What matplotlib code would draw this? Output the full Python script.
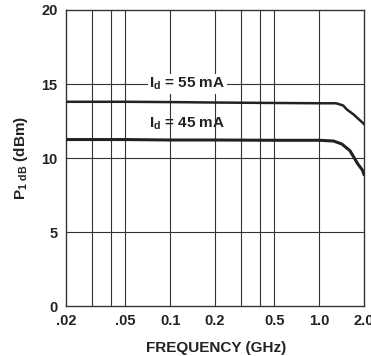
import matplotlib
matplotlib.use("Agg")
from matplotlib import pyplot as plt

# P1dB vs frequency
freq_55 = [0.02, 0.05, 0.1, 0.2, 0.5, 1.0, 1.3, 1.45, 1.54, 1.7, 1.89, 2.0]
p1db_55 = [13.8, 13.8, 13.78, 13.75, 13.72, 13.7, 13.7, 13.55, 13.27, 12.95, 12.53, 12.3]

freq_45 = [0.02, 0.05, 0.1, 0.2, 0.5, 1.0, 1.25, 1.42, 1.61, 1.82, 1.95, 2.0]
p1db_45 = [11.25, 11.25, 11.22, 11.22, 11.2, 11.2, 11.15, 10.95, 10.5, 9.6, 9.2, 8.9]

xgrid = [0.03, 0.04, 0.05, 0.1, 0.2, 0.3, 0.4, 0.5, 1.0]
xticks = [0.02, 0.05, 0.1, 0.2, 0.5, 1.0, 2.0]
xticklabels = [".02", ".05", "0.1", "0.2", "0.5", "1.0", "2.0"]
yticks = [0, 5, 10, 15, 20]

plt.rcParams['font.family'] = ['Liberation Sans', 'DejaVu Sans']
plt.rcParams['font.weight'] = 'bold'
plt.rcParams['mathtext.default'] = 'regular'

fig = plt.figure(figsize=(3.71, 3.56), dpi=100)
ax = fig.add_axes([0.178, 0.14, 0.803, 0.832])

ax.set_xscale('log')
ax.set_xlim(0.02, 2.0)
ax.set_ylim(0, 20)

for x in xgrid:
    ax.axvline(x, color='#333333', lw=0.8, zorder=1)
for y in [5, 10, 15]:
    ax.axhline(y, color='#333333', lw=0.8, zorder=1)

ax.plot(freq_55, p1db_55, color='#222222', lw=1.8, zorder=3)
ax.plot(freq_45, p1db_45, color='#222222', lw=2.2, zorder=3)

ax.text(0.13, 15, r'I$_d$ = 55 mA', ha='center', va='center', fontsize=11,
        fontweight='bold', color='#222222', zorder=4,
        bbox=dict(facecolor='white', edgecolor='none', pad=1))
ax.text(0.13, 12.3, r'I$_d$ = 45 mA', ha='center', va='center', fontsize=11,
        fontweight='bold', color='#222222', zorder=4)

ax.set_xticks(xticks)
ax.set_xticklabels(xticklabels)
ax.xaxis.set_minor_locator(matplotlib.ticker.NullLocator())
ax.set_yticks(yticks)
ax.tick_params(length=0, labelsize=10.5, colors='#222222')
ax.tick_params(axis='x', pad=6)
ax.tick_params(axis='y', pad=6)
for lab in ax.get_xticklabels() + ax.get_yticklabels():
    lab.set_fontweight('bold')

for s in ax.spines.values():
    s.set_color('#333333')
    s.set_linewidth(1.0)

ax.set_xlabel('FREQUENCY (GHz)', fontsize=11, fontweight='bold', color='#222222', va='center')
ax.xaxis.set_label_coords(0.503, -0.142)
ax.set_ylabel(r'P$_{1\ dB}$ (dBm)', fontsize=11, fontweight='bold', color='#222222', va='center')
ax.yaxis.set_label_coords(-0.151, 0.5)

fig.savefig('out.png', dpi=100)
